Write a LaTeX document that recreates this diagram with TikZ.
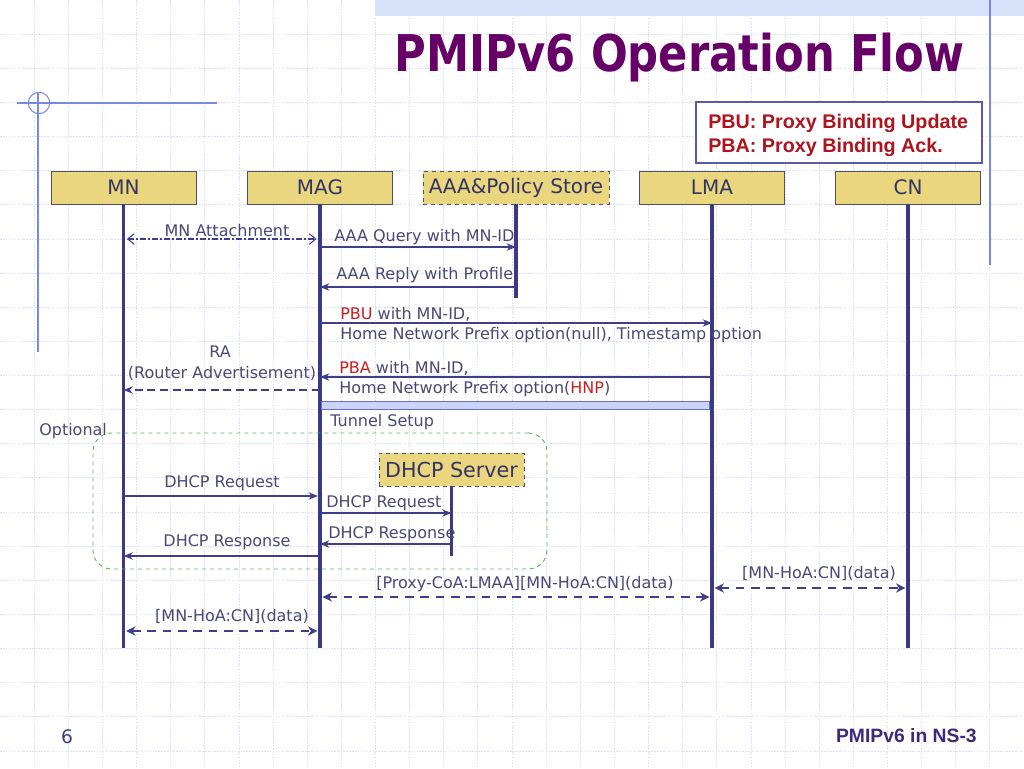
\documentclass[tikz,border=0pt]{standalone}
\usepackage{fontspec}
\usepackage{graphicx}
\setmainfont{DejaVu Sans}
\newfontfamily\arialfont{Liberation Sans}
\usetikzlibrary{arrows.meta,positioning}

\definecolor{gridc}{RGB}{220,225,245}
\definecolor{bandc}{RGB}{216,225,250}
\definecolor{decoc}{RGB}{118,138,228}
\definecolor{titlec}{RGB}{102,0,102}
\definecolor{legc}{RGB}{90,90,170}
\definecolor{legtext}{RGB}{175,20,30}
\definecolor{hdrfill}{RGB}{233,214,126}
\definecolor{hdrline}{RGB}{80,80,100}
\definecolor{hdrtext}{RGB}{52,52,100}
\definecolor{lifec}{RGB}{58,58,130}
\definecolor{msgc}{RGB}{62,62,140}
\definecolor{lbltext}{RGB}{72,72,118}
\definecolor{redc}{RGB}{205,30,30}
\definecolor{tunfill}{RGB}{202,212,250}
\definecolor{tunc}{RGB}{100,112,200}
\definecolor{optc}{RGB}{90,180,90}
\definecolor{footc}{RGB}{62,42,122}

\tikzset{
  hdr/.style={draw=hdrline, fill=hdrfill, text=hdrtext, line width=0.7pt,
    minimum width=108.75pt, minimum height=24.75pt, inner sep=0pt,
    font=\fontsize{15}{18}\selectfont},
  life/.style={draw=lifec, line width=2.5pt},
  msg/.style={draw=msgc, line width=1.1pt, ->},
  ramsg/.style={msg, dash pattern=on 6pt off 3.5pt},
  data/.style={draw=msgc, line width=2.2pt, dash pattern=on 6.5pt off 5pt,
    {Stealth[length=7pt,width=7pt]}-{Stealth[length=7pt,width=7pt]},
    shorten <=2pt, shorten >=2pt},
  lbl/.style={text=lbltext, inner sep=0pt, font=\fontsize{12}{14}\selectfont},
  gridline/.style={draw=gridc, line width=0.5pt, dash pattern=on 1.2pt off 1pt},
}

\begin{document}
\begin{tikzpicture}[x=0.75pt, y=-0.75pt, >={Stealth[length=7pt,width=5.5pt]}]
  \useasboundingbox (0,0) rectangle (1024,768);

  % background
  \foreach \i in {1,...,29} \draw[gridline] (\i*34.13,0) -- (\i*34.13,768);
  \foreach \j in {1,...,22} \draw[gridline] (0,\j*34.13) -- (1024,\j*34.13);
  \fill[bandc] (375,0) rectangle (1024,16);
  \draw[decoc, line width=0.8pt] (990,0) -- (990,265);
  \draw[decoc, line width=0.8pt] (17,103) -- (217,103);
  \draw[decoc, line width=0.8pt] (38,92) -- (38,352);
  \draw[decoc, line width=0.8pt] (39,103) circle[radius=8pt];

  \node[anchor=base east, text=titlec, font=\bfseries\fontsize{38}{40}\selectfont] (title)
    at (969,71) {\scalebox{0.855}[1]{PMIPv6 Operation Flow}};

  % legend
  \node[draw=legc, fill=white, line width=0.8pt, minimum width=214.5pt, minimum height=45.75pt,
    inner sep=0pt] (legend) at (839,132.5) {};
  \node[anchor=base west, text=legtext, inner sep=0pt, font=\arialfont\bfseries\fontsize{14.8}{17}\selectfont]
    (pbuleg) at (708,128) {PBU: Proxy Binding Update};
  \node[anchor=base west, text=legtext, inner sep=0pt, font=\arialfont\bfseries\fontsize{14.8}{17}\selectfont]
    (pbaleg) at (708,152) {PBA: Proxy Binding Ack.};

  % entities
  \node[hdr] (mn) at (123.5,187.5) {MN};
  \node[hdr] (mag) at (320,187.5) {MAG};
  \node[hdr, dashed, minimum width=139.5pt] (aaa) at (516,187.5) {AAA\&Policy Store};
  \node[hdr] (lma) at (712,187.5) {LMA};
  \node[hdr] (cn) at (908,187.5) {CN};

  \draw[life] (mn.south) -- (mn.south |- 0,648);
  \draw[life] (mag.south) -- (mag.south |- 0,648);
  \draw[life] (aaa.south) -- (aaa.south |- 0,298);
  \draw[life] (lma.south) -- (lma.south |- 0,648);
  \draw[life] (cn.south) -- (cn.south |- 0,648);

  % attachment and AAA
  \draw[draw=msgc, line width=0.8pt, dash pattern=on 4pt off 2pt on 1pt off 2pt,
    {Straight Barb[length=5pt,width=8pt]}-{Straight Barb[length=5pt,width=8pt]},
    shorten <=2.5pt, shorten >=2.5pt] (mn |- 0,239) -- (mag |- 0,239);
  \node[lbl, anchor=base] (att) at (227,236) {MN Attachment};
  \draw[msg] (mag |- 0,247) -- (aaa |- 0,247);
  \node[lbl, anchor=base west] (qry) at (334,241) {AAA Query with MN-ID};
  \draw[msg] (aaa |- 0,287) -- (mag |- 0,287);
  \node[lbl, anchor=base west] (rpl) at (336,279) {AAA Reply with Profile};

  % binding
  \draw[msg] (mag |- 0,323) -- (lma |- 0,323);
  \node[lbl, anchor=base west] (pbu1) at (340,319) {\textcolor{redc}{PBU} with MN-ID,};
  \node[lbl, anchor=base west] (pbu2) at (340,339) {Home Network Prefix option(null), Timestamp option};
  \draw[msg] (lma |- 0,377) -- (mag |- 0,377);
  \node[lbl, anchor=base west] (pba1) at (339,373) {\textcolor{redc}{PBA} with MN-ID,};
  \node[lbl, anchor=base west] (pba2) at (339,393) {Home Network Prefix option(\textcolor{redc}{HNP})};
  \draw[ramsg] (mag |- 0,390) -- (mn |- 0,390);
  \node[lbl, anchor=base] (ra1) at (220,357) {RA};
  \node[lbl, anchor=base] (ra2) at (222,378) {(Router Advertisement)};

  \node[draw=tunc, fill=tunfill, line width=0.7pt, minimum width=291pt, minimum height=6pt,
    inner sep=0pt, anchor=west] (tunnel) at (321,405) {};
  \node[lbl, anchor=base west] (tun) at (330,426) {Tunnel Setup};

  % optional DHCP
  \node[draw=optc, dashed, line width=0.7pt, rounded corners=14pt, minimum width=340.5pt,
    minimum height=102pt, inner sep=0pt] (opt) at (320,501) {};
  \node[lbl, anchor=base west] (optlbl) at (39,435) {Optional};
  \node[hdr, dashed, font=\fontsize{15.5}{18}\selectfont] (dhcp) at (451.5,469.5) {DHCP Server};
  \draw[life] (dhcp.south) -- (dhcp.south |- 0,556);

  \draw[msg, shorten >=1.5pt] (mn |- 0,496) -- (mag |- 0,496);
  \node[lbl, anchor=base] (dreq1) at (222,487) {DHCP Request};
  \draw[msg] (mag |- 0,513) -- (dhcp |- 0,513);
  \node[lbl, anchor=base west] (dreq2) at (326,507) {DHCP Request};
  \draw[msg] (dhcp |- 0,544) -- (mag |- 0,544);
  \node[lbl, anchor=base west] (dres2) at (328,538) {DHCP Response};
  \draw[msg, shorten <=1.5pt] (mag |- 0,556) -- (mn |- 0,556);
  \node[lbl, anchor=base] (dres1) at (227,546) {DHCP Response};

  % data
  \draw[data] (mag |- 0,597) -- (lma |- 0,597);
  \node[lbl, anchor=base] (tnldata) at (525,588) {[Proxy-CoA:LMAA][MN-HoA:CN](data)};
  \draw[data] (lma |- 0,588) -- (cn |- 0,588);
  \node[lbl, anchor=base] (cndata) at (819,578) {[MN-HoA:CN](data)};
  \draw[data] (mn |- 0,631) -- (mag |- 0,631);
  \node[lbl, anchor=base] (mndata) at (232,621) {[MN-HoA:CN](data)};

  % footer
  \node[anchor=base, text=lifec, inner sep=0pt, font=\fontsize{14}{16}\selectfont] (pgno) at (67,743) {6};
  \node[anchor=base east, text=footc, inner sep=0pt, font=\arialfont\bfseries\fontsize{14.5}{16}\selectfont]
    (foot) at (977,742) {PMIPv6 in NS-3};
\end{tikzpicture}
\end{document}
